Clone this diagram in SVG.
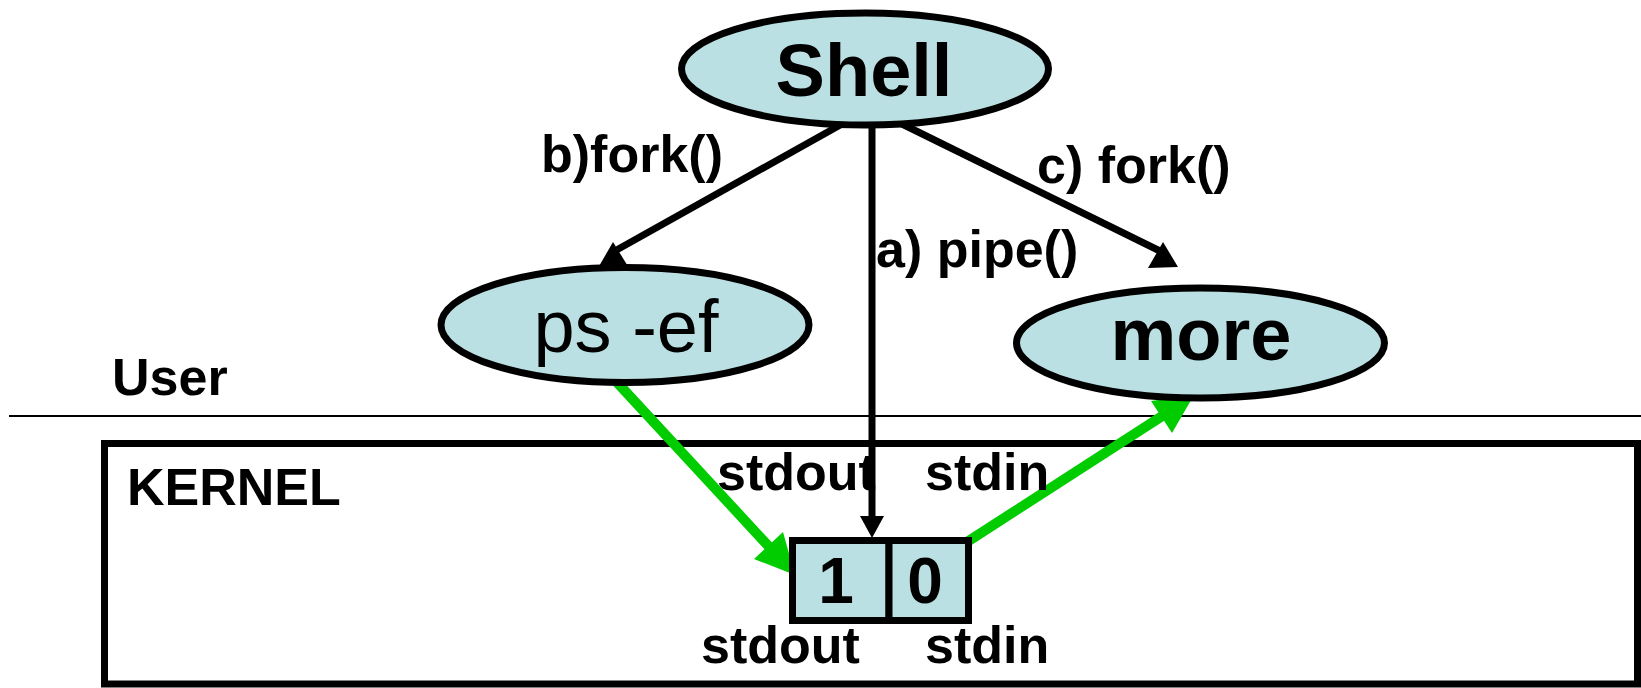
<svg xmlns="http://www.w3.org/2000/svg" width="1641" height="688" viewBox="0 0 1641 688">
  <style>
    .node { fill: #BBE0E3; stroke: #000; stroke-width: 7; }
    .cell { fill: #BBE0E3; stroke: #000; stroke-width: 7; }
    .lbl { font-family: "Liberation Sans", Arial, sans-serif; font-weight: bold; font-size: 52px; fill: #000; }
    .big { font-family: "Liberation Sans", Arial, sans-serif; font-size: 74px; fill: #000; text-anchor: middle; }
    .num { font-family: "Liberation Sans", Arial, sans-serif; font-weight: bold; font-size: 64px; fill: #000; text-anchor: middle; }
    .call { stroke: #000; stroke-width: 7; fill: none; }
    .flow { stroke: #00CC00; stroke-width: 10; fill: none; }
  </style>

  <!-- user / kernel boundary -->
  <line x1="9" y1="416" x2="1641" y2="416" stroke="#000" stroke-width="2"/>
  <text class="lbl" x="112" y="395">User</text>

  <!-- kernel area -->
  <g id="kernel">
    <rect x="104.5" y="443.5" width="1533" height="240.5" fill="none" stroke="#000" stroke-width="7"/>
    <text class="lbl" x="127" y="505">KERNEL</text>
  </g>

  <!-- connectors -->
  <g id="connectors">
    <!-- b) fork -->
    <line class="call" x1="842" y1="124" x2="613" y2="252"/>
    <polygon points="613,242 598,268 629,268" fill="#000"/>
    <!-- c) fork -->
    <line class="call" x1="902" y1="124" x2="1162" y2="252"/>
    <polygon points="1163,242 1148,268 1178,267" fill="#000"/>
    <!-- a) pipe -->
    <line class="call" x1="872" y1="122" x2="872" y2="520"/>
    <polygon points="860,516 884,516 872,538" fill="#000"/>
    <!-- stdout of ps into pipe -->
    <line class="flow" x1="613" y1="378" x2="773" y2="551"/>
    <polygon points="795,575 754,559 783,532" fill="#00CC00"/>
    <!-- pipe into stdin of more -->
    <line class="flow" x1="967" y1="542" x2="1170" y2="411"/>
    <polygon points="1194,395 1151,401 1172,433" fill="#00CC00"/>
  </g>

  <g id="edge-labels">
    <text class="lbl" x="541" y="172">b)fork()</text>
    <text class="lbl" x="1037" y="183">c) fork()</text>
    <text class="lbl" x="876" y="267">a) pipe()</text>
  </g>

  <g id="shell">
    <ellipse class="node" cx="865" cy="69" rx="183.5" ry="56"/>
    <text class="big" x="864" y="96" font-weight="bold">Shell</text>
  </g>

  <g id="ps">
    <ellipse class="node" cx="625" cy="325" rx="184" ry="57.5"/>
    <text class="big" x="626" y="352">ps -ef</text>
  </g>

  <g id="more">
    <ellipse class="node" cx="1200.5" cy="343" rx="184" ry="55"/>
    <text class="big" x="1201" y="360" font-weight="bold">more</text>
  </g>

  <g id="pipe">
    <rect class="cell" x="792.5" y="540.5" width="96.5" height="80"/>
    <rect class="cell" x="889" y="540.5" width="79.5" height="80"/>
    <text class="num" x="836" y="603">1</text>
    <text class="num" x="925" y="603">0</text>
    <text class="lbl" x="717" y="490">stdout</text>
    <text class="lbl" x="925" y="490">stdin</text>
    <text class="lbl" x="701" y="663">stdout</text>
    <text class="lbl" x="925" y="663">stdin</text>
  </g>
</svg>
